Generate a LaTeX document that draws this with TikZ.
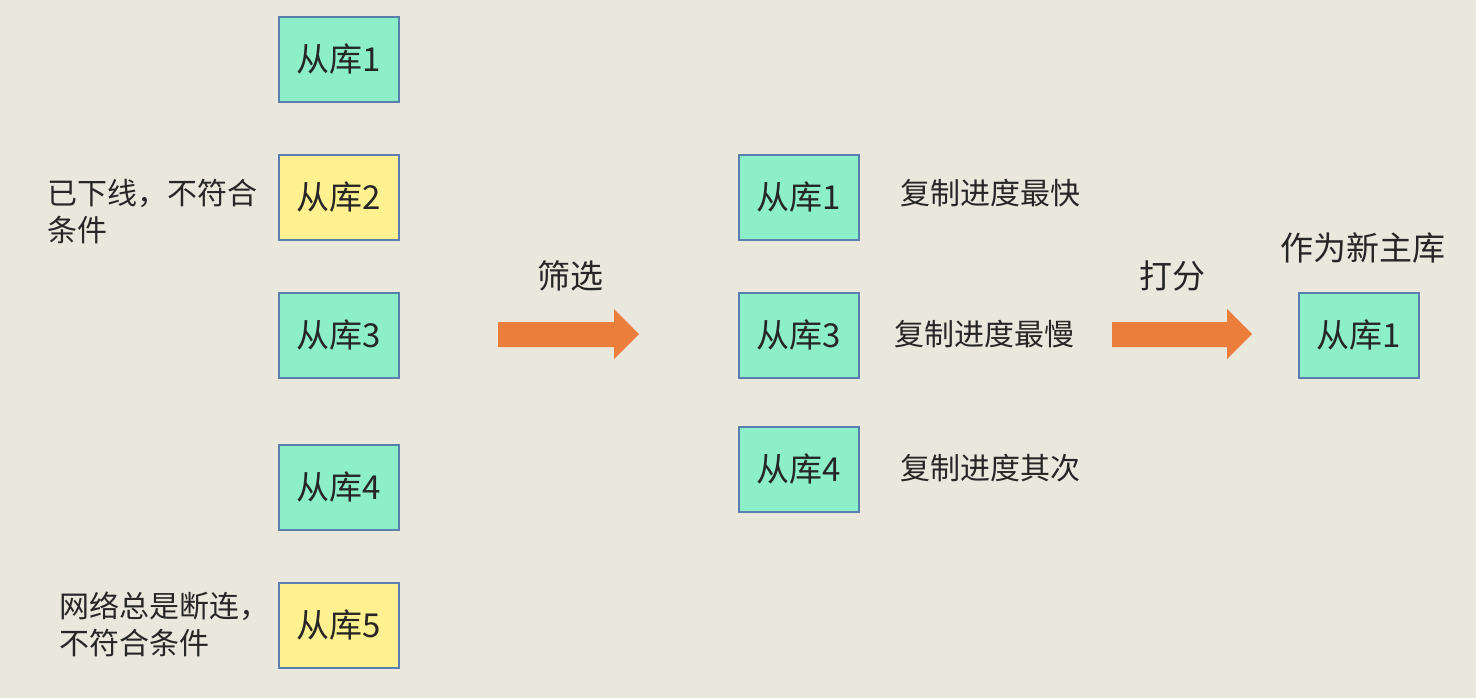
\documentclass[tikz,border=0pt]{standalone}
\usepackage{fontspec}
\setmainfont{Noto Sans CJK SC}
\usetikzlibrary{positioning}
\definecolor{bg}{HTML}{EAE7DD}
\definecolor{gfill}{HTML}{8CEFC8}
\definecolor{yfill}{HTML}{FFF18F}
\definecolor{bord}{HTML}{5A7FAE}
\definecolor{arr}{HTML}{EC7E3C}
\definecolor{txt}{HTML}{262626}
\tikzset{
  box/.style={draw=bord, line width=1pt, minimum width=60pt, minimum height=42.5pt, inner sep=0pt, text=txt, font=\fontsize{16.5}{18}\selectfont},
  gbox/.style={box, fill=gfill},
  ybox/.style={box, fill=yfill},
  lbl/.style={text=txt, font=\fontsize{15}{18.5}\selectfont, inner sep=0pt},
  big/.style={text=txt, font=\fontsize{16.5}{18}\selectfont, inner sep=0pt},
  fat/.style={fill=arr, draw=none}
}
\begin{document}
\begin{tikzpicture}[x=0.5pt,y=-0.5pt]
\fill[bg] (0,0) rectangle (1476,698);
\useasboundingbox (0,0) rectangle (1476,698);
% left column
\node[gbox] (s1) at (339,59.5) {从库1};
\node[ybox] (s2) at (339,197.5) {从库2};
\node[gbox] (s3) at (339,335) {从库3};
\node[gbox] (s4) at (339,487.5) {从库4};
\node[ybox] (s5) at (339,625.5) {从库5};
\node[lbl, anchor=west, align=left] (n2) at (47,211.5) {已下线，不符合\\条件};
\node[lbl, anchor=west, align=left] (n5) at (59,624.5) {网络总是断连，\\不符合条件};
% filter arrow
\fill[fat] (498,322) -- (614,322) -- (614,309) -- (639,334) -- (614,359) -- (614,347) -- (498,347) -- cycle;
\node[big] (f) at (570,276) {筛选};
% middle column
\node[gbox] (m1) at (799,197.5) {从库1};
\node[gbox] (m3) at (799,335) {从库3};
\node[gbox] (m4) at (799,469.5) {从库4};
\node[lbl, anchor=west] (t1) at (900,193) {复制进度最快};
\node[lbl, anchor=west] (t3) at (894,334) {复制进度最慢};
\node[lbl, anchor=west] (t4) at (900,468) {复制进度其次};
% score arrow
\fill[fat] (1112,322) -- (1227,322) -- (1227,309) -- (1252,334) -- (1227,359) -- (1227,347) -- (1112,347) -- cycle;
\node[big] (d) at (1172,276) {打分};
% result
\node[gbox] (r1) at (1359,335) {从库1};
\node[big] (rl) at (1363,248) {作为新主库};
\end{tikzpicture}
\end{document}
